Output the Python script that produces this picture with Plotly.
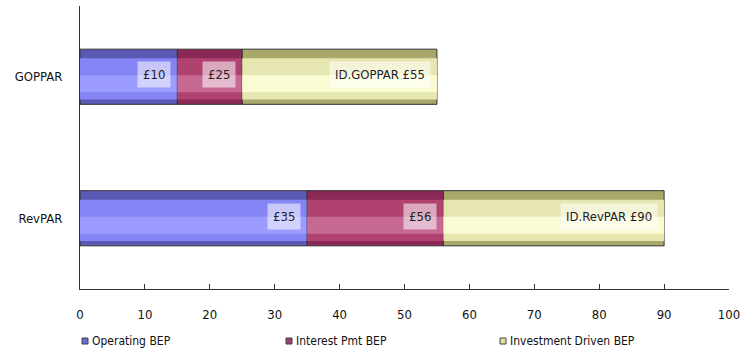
import numpy as np
import plotly.graph_objects as go

categories = ["GOPPAR", "RevPAR"]
series_names = ["Operating BEP", "Interest Pmt BEP", "Investment Driven BEP"]
operating = [15, 35]
interest = [10, 21]
investment = [30, 34]
labels = [["£10", "£35"], ["£25", "£56"], ["ID.GOPPAR £55", "ID.RevPAR £90"]]
x_ticks = [0, 10, 20, 30, 40, 50, 60, 70, 80, 90, 100]

values = [operating, interest, investment]
edge_colors = ["#5a5ab4", "#8a2856", "#a8a86a"]
mid_colors = ["#8484f4", "#b0426f", "#e6e6b0"]
hi_colors = ["#9c9cff", "#c66a94", "#fafad4"]
legend_colors = ["#6a6ad8", "#a04070", "#e0e0a0"]

FONT = "DejaVu Sans Condensed, Liberation Sans Narrow, Arial Narrow, sans-serif"

W, H = 742, 356
ML, MR, MT, MB = 80, 13, 6, 67
PW, PH = W - ML - MR, H - MT - MB

fig = go.Figure()
bases = np.zeros(len(categories))
for i, (name, vals) in enumerate(zip(series_names, values)):
    vals = np.array(vals, dtype=float)
    fig.add_trace(go.Bar(
        y=categories, x=vals, base=bases, orientation="h", name=name,
        width=0.39, marker=dict(color=edge_colors[i], line=dict(color="#333333", width=1)),
        showlegend=False, hoverinfo="skip"))
    fig.add_trace(go.Bar(
        y=categories, x=vals, base=bases, orientation="h", name=name,
        width=0.29, offset=-0.13, marker=dict(color=mid_colors[i], line=dict(width=0)),
        showlegend=False, hoverinfo="skip"))
    fig.add_trace(go.Bar(
        y=categories, x=vals, base=bases, orientation="h", name=name,
        width=0.12, offset=-0.01, marker=dict(color=hi_colors[i], line=dict(width=0)),
        showlegend=False, hoverinfo="skip"))
    ends = bases + vals
    for j, cat in enumerate(categories):
        fig.add_annotation(
            x=ends[j], y=cat, text=labels[i][j], showarrow=False,
            xanchor="right", xshift=-6, yshift=2,
            font=dict(family=FONT, size=13, color="#222222"),
            bgcolor="rgba(255,255,255,0.55)", borderpad=5)
    bases = ends

# manual legend (small square swatches + names), placed in paper coordinates
legend_px = [82, 286, 500]
legend_cy = 341
for i, name in enumerate(series_names):
    x0 = (legend_px[i] - ML) / PW
    x1 = (legend_px[i] + 6 - ML) / PW
    y0 = (H - MB - (legend_cy + 3)) / PH
    y1 = (H - MB - (legend_cy - 3)) / PH
    fig.add_shape(type="rect", xref="paper", yref="paper", x0=x0, x1=x1, y0=y0, y1=y1,
                  fillcolor=legend_colors[i], line=dict(color="#444444", width=1))
    fig.add_annotation(xref="paper", yref="paper", x=(legend_px[i] + 8 - ML) / PW,
                       y=(H - MB - legend_cy) / PH, text=name, showarrow=False,
                       xanchor="left", yanchor="middle",
                       font=dict(family=FONT, size=12, color="#111111"))

fig.update_layout(
    width=W, height=H,
    margin=dict(l=ML, r=MR, t=MT, b=MB),
    barmode="overlay",
    plot_bgcolor="white", paper_bgcolor="white",
    font=dict(family=FONT, size=13, color="#111111"),
    showlegend=False,
)
fig.update_xaxes(range=[0, 100], tickvals=x_ticks, ticks="inside", ticklen=5,
                 tickcolor="#333333", showline=True, linecolor="#333333", linewidth=1,
                 showgrid=False, zeroline=False, ticklabelstandoff=13, automargin=False,
                 tickfont=dict(family=FONT, size=13))
fig.update_yaxes(categoryorder="array", categoryarray=categories, autorange="reversed",
                 showline=True, linecolor="#333333", linewidth=1, ticks="",
                 showgrid=False, ticklabelstandoff=14, automargin=False,
                 tickfont=dict(family=FONT, size=13))

fig.write_html("out.html", config={"displayModeBar": False},
               post_script="document.body.style.margin='0';document.body.style.overflow='hidden';")
